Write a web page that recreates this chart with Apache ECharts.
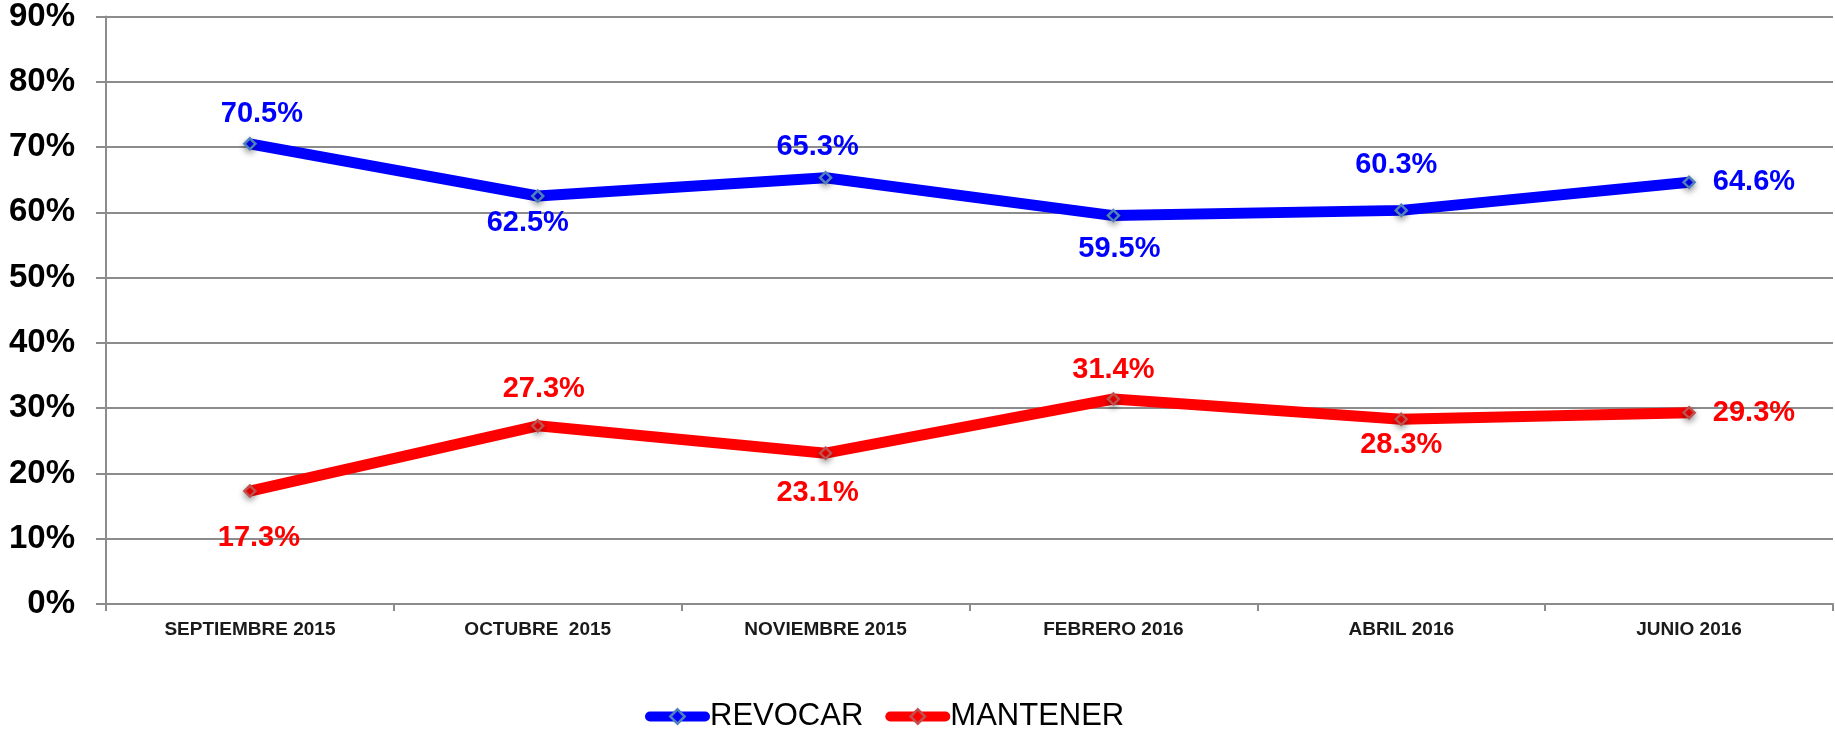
<!DOCTYPE html>
<html>
<head>
<meta charset="utf-8">
<title>Revocar / Mantener</title>
<script src="https://cdn.jsdelivr.net/npm/echarts@6/dist/echarts.min.js"></script>
<style>
  html, body { margin: 0; padding: 0; background: #fff; }
  #main { width: 1835px; height: 730px; }
</style>
</head>
<body>
<div id="main"></div>
<script>
// datos del gráfico
const categories = ["SEPTIEMBRE 2015", "OCTUBRE  2015", "NOVIEMBRE 2015", "FEBRERO 2016", "ABRIL 2016", "JUNIO 2016"];
const revocar = [70.5, 62.5, 65.3, 59.5, 60.3, 64.6];
const mantener = [17.3, 27.3, 23.1, 31.4, 28.3, 29.3];
const yTicks = [0, 10, 20, 30, 40, 50, 60, 70, 80, 90];

// colocación de etiquetas: [posición, distancia, desplazamiento x]
const revocarLabels = [["top", 9, 12], ["bottom", 6, -10], ["top", 9, -8], ["bottom", 12, 6], ["top", 24, -5], ["right", 17, 0]];
const mantenerLabels = [["bottom", 26, 9], ["top", 16, 6], ["bottom", 19, -8], ["top", 8, 0], ["bottom", 4, 0], ["right", 17, 0]];

const FONT = "'Liberation Sans', Arial, Helvetica, sans-serif";

function buildData(values, places) {
  return values.map((v, i) => ({
    value: v,
    label: { position: places[i][0], distance: places[i][1], offset: [places[i][2], 0] }
  }));
}

function makeSeries(name, values, places, color, border) {
  return {
    name: name,
    type: "line",
    data: buildData(values, places),
    symbol: "diamond",
    symbolSize: 11,
    lineStyle: { color: color, width: 11 },
    itemStyle: {
      color: color,
      borderColor: border,
      borderWidth: 2.5,
      shadowBlur: 6,
      shadowColor: "rgba(0,0,0,0.35)",
      shadowOffsetY: 3
    },
    label: {
      show: true,
      color: color,
      fontFamily: FONT,
      fontWeight: "bold",
      fontSize: 29,
      formatter: p => p.value.toFixed(1) + "%"
    },
    emphasis: { disabled: true },
    z: 3
  };
}

const myChart = echarts.init(document.getElementById("main"));
myChart.setOption({
  animation: false,
  backgroundColor: "#fff",
  grid: { left: 106, right: 2, top: 12, bottom: 126, containLabel: false },
  legend: {
    left: 640,
    top: 696,
    itemWidth: 55,
    itemHeight: 18,
    itemGap: 22,
    lineStyle: { width: 10, cap: "round" },
    itemStyle: { borderWidth: 2.5 },
    textStyle: { fontFamily: "'Liberation Sans Narrow', " + FONT, fontSize: 31, color: "#000" },
    data: ["REVOCAR", "MANTENER"]
  },
  xAxis: {
    type: "category",
    data: categories,
    boundaryGap: true,
    axisLine: { lineStyle: { color: "#8c8c8c", width: 2 } },
    axisTick: { show: true, length: 7, lineStyle: { color: "#8c8c8c", width: 2 } },
    axisLabel: { color: "#1a1a1a", fontFamily: FONT, fontWeight: "bold", fontSize: 19, margin: 16 }
  },
  yAxis: {
    type: "value",
    min: yTicks[0],
    max: yTicks[yTicks.length - 1],
    interval: yTicks[1] - yTicks[0],
    axisLine: { show: true, lineStyle: { color: "#8c8c8c", width: 2 } },
    axisTick: { show: true, length: 10, lineStyle: { color: "#8c8c8c", width: 2 } },
    splitLine: { lineStyle: { color: "#8c8c8c", width: 2 } },
    axisLabel: { color: "#000", fontFamily: FONT, fontWeight: "bold", fontSize: 33, margin: 31, formatter: "{value}%" }
  },
  series: [
    makeSeries("REVOCAR", revocar, revocarLabels, "#0000ff", "#4f81bd"),
    makeSeries("MANTENER", mantener, mantenerLabels, "#ff0000", "#c0504d")
  ]
});
</script>
</body>
</html>
